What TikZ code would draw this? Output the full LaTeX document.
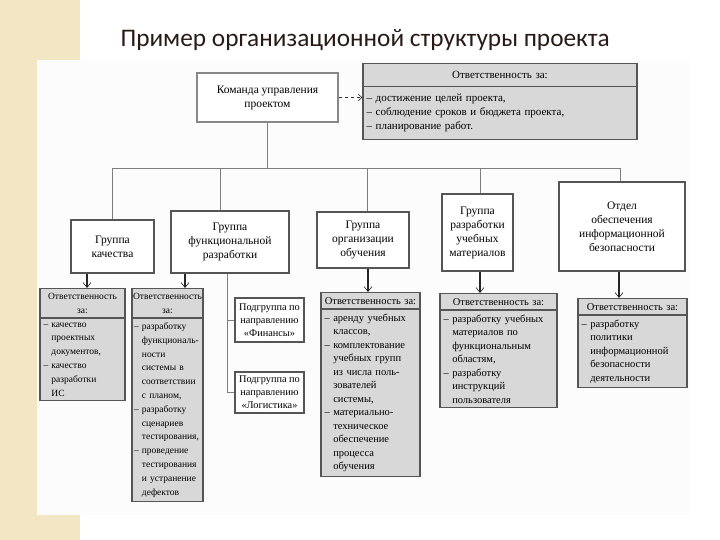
\documentclass[tikz,border=0pt]{standalone}
\usepackage{fontspec}
\setmainfont{Liberation Serif}
\newfontfamily\zagolovokshrift{Carlito}
\usetikzlibrary{arrows.meta,shapes.multipart,positioning}

\definecolor{bezh}{RGB}{242,230,196}
\definecolor{panel}{RGB}{252,252,252}
\definecolor{seryfon}{RGB}{216,216,216}
\definecolor{ramka}{RGB}{85,85,85}
\definecolor{liniya}{RGB}{125,125,125}
\definecolor{titul}{RGB}{40,26,22}

% отступ для продолжения пункта после тире
\newcommand{\otstup}{\hphantom{–~}}
% строка по центру части узла
\newcommand{\poseredine}[1]{\makebox[\hsize][c]{#1}}

\begin{document}
\begin{tikzpicture}[
  x=1pt, y=-1pt,
  font=\fontsize{10.5}{13.5}\selectfont,
  krupno/.style={font=\fontsize{11.5}{14}\selectfont},
  melko/.style={font=\fontsize{9.5}{13.8}\selectfont},
  gruppa/.style={draw=ramka, line width=1.2pt, fill=white, align=center,
                 inner sep=2pt, krupno},
  otvet/.style={rectangle split, rectangle split parts=2, draw=ramka,
                line width=1.2pt, fill=seryfon, align=left, anchor=north,
                inner xsep=3.5pt, inner ysep=4pt},
  svyaz/.style={draw=liniya, line width=0.8pt},
  strelka/.style={draw=black!85, line width=1.6pt,
                  -{Straight Barb[line width=0.6pt, length=5pt, width=8pt]}},
  punktir/.style={draw=black!80, line width=0.9pt, dashed,
                  -{Straight Barb[line width=0.6pt, length=4pt, width=7pt]}}
]
\useasboundingbox (0,0) rectangle (720,540);

% ---- фон слайда ----------------------------------------------------
\fill[bezh] (0,0) rectangle (37,540);
\fill[bezh] (0,0) rectangle (80,60);
\fill[bezh] (0,510) rectangle (80,540);
\fill[panel] (37,60) rectangle (690,515);

\node[anchor=base west, text=titul,
      font=\zagolovokshrift\fontsize{25.3}{30}\selectfont] (zagolovok) at (117,47)
  {Пример организационной структуры проекта};

% ---- верхний уровень -----------------------------------------------
\node[gruppa, line width=2pt, draw=ramka!70, minimum width=141pt, minimum height=49pt]
  (komanda) at (267.5,97.5) {Команда управления\\проектом};
\node[otvet, text width=267pt, inner ysep=7pt, font=\fontsize{11}{14}\selectfont]
  (o0) at (500,63)
  {\poseredine{Ответственность за:}
   \nodepart{two}– достижение целей проекта,\\– соблюдение сроков и бюджета проекта,\\– планирование работ.};

% ---- группы --------------------------------------------------------
\node[gruppa, minimum width=83pt, minimum height=53pt] (kachestvo) at (112.5,246.5)
  {Группа\\качества};
\node[gruppa, minimum width=118pt, minimum height=62pt] (funkc) at (230,242)
  {Группа\\функциональной\\разработки};
\node[gruppa, minimum width=92pt, minimum height=56pt] (organiz) at (363,240)
  {Группа\\организации\\обучения};
\node[gruppa, minimum width=71pt, minimum height=77pt] (materialy) at (477.5,232.5)
  {Группа\\разработки\\учебных\\материалов};
\node[gruppa, minimum width=126pt, minimum height=89pt] (otdel) at (622,226.5)
  {Отдел\\обеспечения\\информационной\\безопасности};

% ---- подгруппы -----------------------------------------------------
\node[gruppa, font=\fontsize{10.3}{13}\selectfont, minimum width=69pt,
      minimum height=44pt] (finansy) at (269.5,320)
  {Подгруппа по\\направлению\\«Финансы»};
\node[gruppa, font=\fontsize{10.3}{13}\selectfont, minimum width=69pt,
      minimum height=41pt] (logistika) at (269.5,392.5)
  {Подгруппа по\\направлению\\«Логистика»};

% ---- ответственность групп -----------------------------------------
\node[otvet, melko, text width=78pt] (o1) at (82.5,288)
  {\poseredine{Ответственность}\\\poseredine{за:}
   \nodepart{two}– качество\\\otstup проектных\\\otstup документов,\\– качество\\\otstup разработки\\\otstup ИС};
\node[otvet, melko, text width=67pt, inner xsep=2pt] (o2) at (167.5,288)
  {\poseredine{Ответственность}\\\poseredine{за:}
   \nodepart{two}– разработку\\\otstup функциональ-\\\otstup ности\\\otstup системы в\\\otstup соответствии\\\otstup с планом,\\– разработку\\\otstup сценариев\\\otstup тестирования,\\– проведение\\\otstup тестирования\\\otstup и устранение\\\otstup дефектов};
\node[otvet, text width=92pt] (o3) at (370.5,292)
  {\poseredine{Ответственность за:}
   \nodepart{two}– аренду учебных\\\otstup классов,\\– комплектование\\\otstup учебных групп\\\otstup из числа поль-\\\otstup зователей\\\otstup системы,\\– материально-\\\otstup техническое\\\otstup обеспечение\\\otstup процесса\\\otstup обучения};
\node[otvet, text width=110pt] (o4) at (498.5,293)
  {\poseredine{Ответственность за:}
   \nodepart{two}– разработку учебных\\\otstup материалов по\\\otstup функциональным\\\otstup областям,\\– разработку\\\otstup инструкций\\\otstup пользователя};
\node[otvet, text width=102pt] (o5) at (632.5,298)
  {\poseredine{Ответственность за:}
   \nodepart{two}– разработку\\\otstup политики\\\otstup информационной\\\otstup безопасности\\\otstup деятельности};

% ---- связи ---------------------------------------------------------
\coordinate (shina) at (0,168);
\draw[svyaz] (komanda.south) -- (komanda.south |- shina);
\draw[svyaz] (kachestvo.north |- shina) -- ([xshift=-2pt]otdel.north |- shina);
\foreach \g/\s in {kachestvo/0, funkc/-10, organiz/4, materialy/3, otdel/-2}
  \draw[svyaz] ([xshift=\s pt]\g.north) -- ([xshift=\s pt]\g.north |- shina);

\draw[punktir] (komanda.east) -- (o0.west |- komanda.east);

\foreach \g/\o/\s in {kachestvo/o1/4.5, funkc/o2/17.5, organiz/o3/-2.5,
                      materialy/o4/-18.5, otdel/o5/-13.5}
  \draw[strelka] ([xshift=\s pt]\o.north |- \g.south) -- ([xshift=\s pt]\o.north);

\coordinate (vetka) at ([xshift=-3pt]funkc.south);
\draw[svyaz] (vetka) |- (logistika.west);
\draw[svyaz] (vetka |- finansy.west) -- (finansy.west);

\end{tikzpicture}
\end{document}
